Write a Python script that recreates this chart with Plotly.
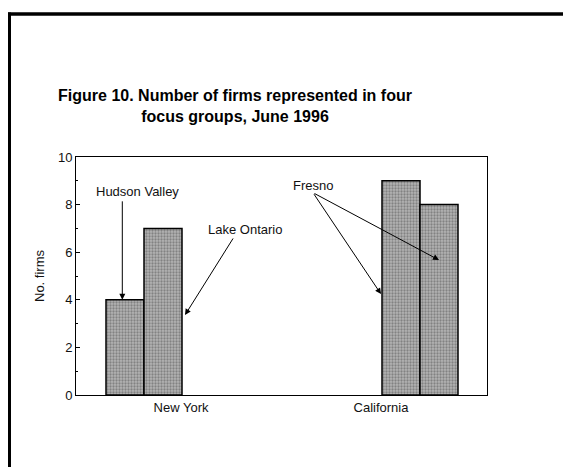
import plotly.graph_objects as go

regions = ["New York", "California"]
# first and second bar in each region
first_group = ["Hudson Valley", "Fresno"]
first_values = [4, 9]
second_group = ["Lake Ontario", "Fresno"]
second_values = [7, 8]

W, H = 571, 467
font_name = "Liberation Sans, Arial, sans-serif"

bar_style = dict(color="#a8a8a8",
                 line=dict(color="black", width=1.5),
                 pattern=dict(shape=".", fgcolor="#505050", bgcolor="#b4b4b4", size=3, solidity=0.45))

fig = go.Figure()
fig.add_trace(go.Bar(x=regions, y=first_values, width=0.19, offset=[-0.375, 0.005],
                     marker=bar_style, customdata=first_group, showlegend=False))
fig.add_trace(go.Bar(x=regions, y=second_values, width=0.19, offset=[-0.185, 0.195],
                     marker=bar_style, customdata=second_group, showlegend=False))

# page body adds 8px, so the margins are shifted to compensate
fig.update_layout(
    width=W, height=H,
    margin=dict(l=68, r=92, t=149, b=80),
    paper_bgcolor="white", plot_bgcolor="white",
    font=dict(family=font_name, size=13, color="#111"),
    barmode="overlay",
    title=dict(text="<b>Figure 10. Number of firms represented in four<br>focus groups, June 1996</b>",
               x=227 / W, xanchor="center", y=1 - 93 / H, yanchor="middle",
               font=dict(family=font_name, size=16, color="black")),
)
fig.update_xaxes(range=[-0.525, 1.53], showline=True, linecolor="black", linewidth=1, mirror=True,
                 ticks="", showgrid=False, tickfont=dict(size=13, color="#111"))
fig.update_yaxes(range=[0, 10], dtick=2, showline=True, linecolor="black", linewidth=1, mirror=True,
                 ticks="inside", ticklen=4, tickcolor="black", showgrid=False, zeroline=False,
                 minor=dict(ticks="inside", ticklen=2, dtick=1, tickcolor="black"),
                 tickfont=dict(size=13, color="#111"),
                 title=dict(text="No. firms", font=dict(size=13, color="#111"), standoff=10))

# arrows pointing at the bars
arrow = dict(showarrow=True, arrowhead=2, arrowsize=1.2, arrowwidth=1, arrowcolor="black",
             axref="x", ayref="y", text="")
fig.add_annotation(x=-0.2935, y=4.0, ax=-0.2935, ay=8.2, **arrow)
fig.add_annotation(x=0.02, y=3.36, ax=0.265, ay=6.64, **arrow)
fig.add_annotation(x=1.0, y=4.24, ax=0.66, ay=8.5, **arrow)
fig.add_annotation(x=1.29, y=5.67, ax=0.66, ay=8.5, **arrow)

labels = [("Hudson Valley", -0.22, 8.57), ("Lake Ontario", 0.32, 6.97), ("Fresno", 0.66, 8.8)]
for txt, lx, ly in labels:
    fig.add_annotation(x=lx, y=ly, text=txt, showarrow=False, font=dict(size=13, color="#111"))

# scanned page frame (top and left edges)
fig.add_shape(type="line", xref="paper", yref="paper", x0=-0.1618, x1=-0.1618, y0=1.607, y1=-0.36,
              line=dict(color="black", width=3))
fig.add_shape(type="line", xref="paper", yref="paper", x0=-0.17, x1=1.25, y0=1.601, y1=1.601,
              line=dict(color="black", width=3.4))

fig.write_html("out.html")
